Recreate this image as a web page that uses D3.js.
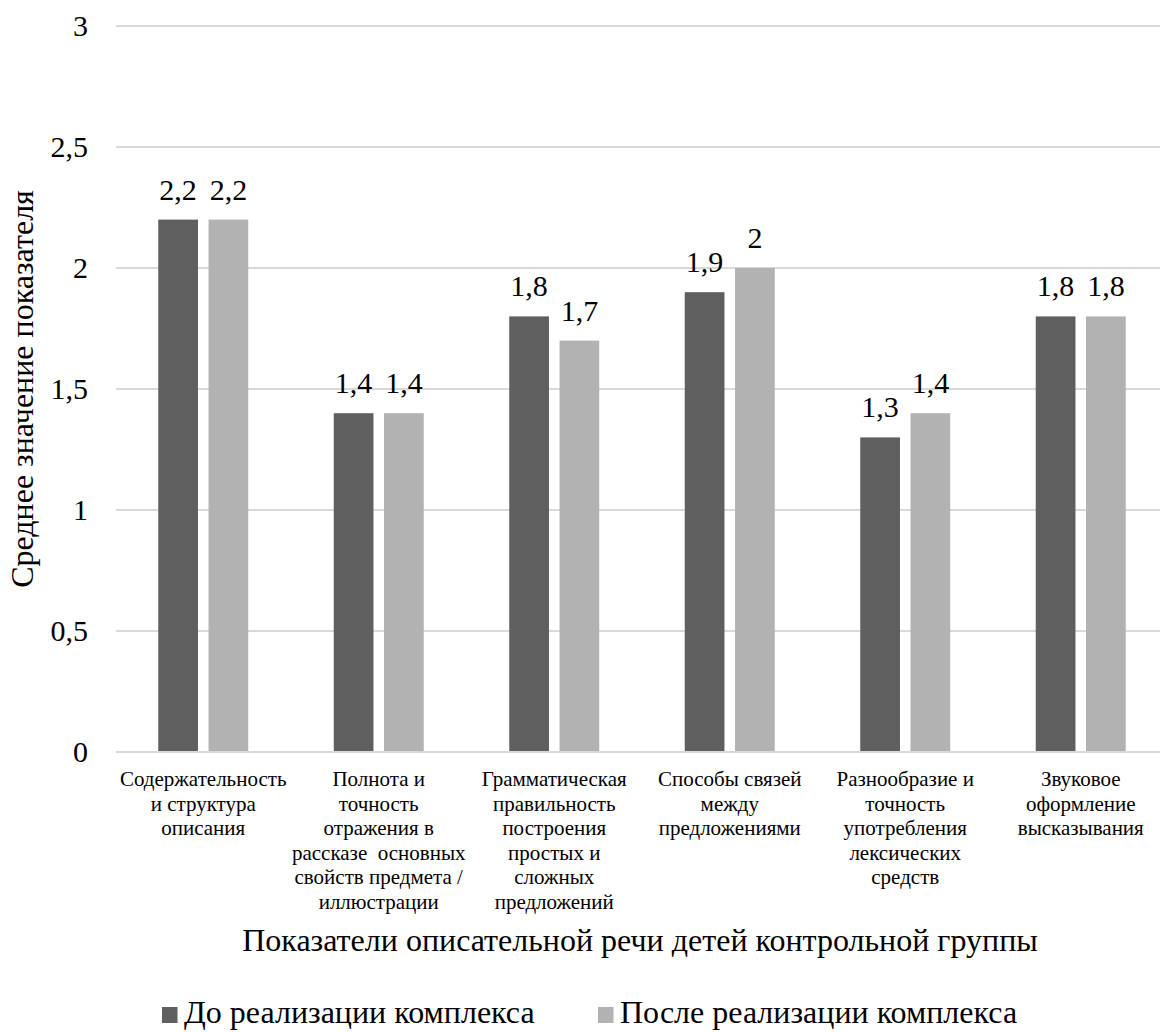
<!DOCTYPE html>
<html><head><meta charset="utf-8">
<script src="https://cdn.jsdelivr.net/npm/d3@7/dist/d3.min.js"></script>
</head><body style="margin:0;background:#fff"><svg id="c" width="1160" height="1032" style="display:block"></svg>
<script>
const categories = [
  "Содержательность\nи структура\nописания",
  "Полнота и\nточность\nотражения в\nрассказе  основных\nсвойств предмета /\nиллюстрации",
  "Грамматическая\nправильность\nпостроения\nпростых и\nсложных\nпредложений",
  "Способы связей\nмежду\nпредложениями",
  "Разнообразие и\nточность\nупотребления\nлексических\nсредств",
  "Звуковое\nоформление\nвысказывания"
];
const seriesNames = ["До реализации комплекса", "После реализации комплекса"];
const before = [2.2, 1.4, 1.8, 1.9, 1.3, 1.8];
const after = [2.2, 1.4, 1.7, 2.0, 1.4, 1.8];
const yTicks = [0, 0.5, 1, 1.5, 2, 2.5, 3];
const colors = ["#5f5f5f", "#b2b2b2"];
const xTitle = "Показатели описательной речи детей контрольной группы";
const yTitle = "Среднее значение показателя";

const svg = d3.select("#c");
const x = d3.scaleBand().domain(d3.range(categories.length)).range([115.5, 1168.5]);
const bw = x.bandwidth();
const x1 = d3.scaleBand().domain([0,1]).range([bw/2 - 45, bw/2 + 45]).paddingInner(0.21);
const y = d3.scaleLinear().domain([0,3]).range([752, 26]);
const fmt = v => String(v).replace(".", ",");
function txt(sel) { sel.style("font-family", '"Liberation Serif", monospace').attr("fill", "#000"); }

svg.append("g").selectAll("line").data(yTicks).join("line")
  .attr("x1", 116).attr("x2", 1160).attr("y1", d => y(d)).attr("y2", d => y(d))
  .attr("stroke", "#d9d9d9").attr("stroke-width", 2);

svg.append("g").selectAll("text").data(yTicks).join("text")
  .call(txt)
  .attr("x", 88).attr("y", d => y(d) + 10).attr("text-anchor", "end")
  .attr("font-size", 30).text(fmt);

const data = [before, after];
data.forEach((vals, s) => {
  const g = svg.append("g");
  g.selectAll("rect").data(vals).join("rect")
    .attr("x", (d,i) => x(i) + x1(s)).attr("width", x1.bandwidth())
    .attr("y", d => y(d)).attr("height", d => y(0) - y(d))
    .attr("fill", colors[s]);
  g.selectAll("text").data(vals).join("text")
    .call(txt)
    .attr("x", (d,i) => x(i) + x1(s) + x1.bandwidth()/2)
    .attr("y", d => y(d) - 20).attr("text-anchor", "middle")
    .attr("font-size", 30).text(fmt);
});

svg.append("line").attr("x1", 116).attr("x2", 1160).attr("y1", y(0)).attr("y2", y(0))
  .attr("stroke", "#d9d9d9").attr("stroke-width", 2);

const cl = svg.append("g");
categories.forEach((c, i) => {
  const cx = x(i) + bw/2;
  const t = cl.append("text").call(txt).attr("text-anchor", "middle").attr("font-size", 21)
    .attr("x", cx).attr("y", 786).style("white-space", "pre");
  c.split("\n").forEach((line, k) => {
    t.append("tspan").attr("x", cx).attr("y", 786 + k*24.5).text(line);
  });
});

svg.append("text").call(txt).attr("x", 640).attr("y", 951).attr("text-anchor", "middle")
  .attr("font-size", 32).text(xTitle);
svg.append("text").call(txt).attr("transform", "translate(33,389) rotate(-90)").attr("text-anchor", "middle")
  .attr("font-size", 32).text(yTitle);

const legX = [162, 598];
seriesNames.forEach((n, s) => {
  svg.append("rect").attr("x", legX[s]).attr("y", 1007).attr("width", 15.5).attr("height", 16).attr("fill", colors[s]);
  svg.append("text").call(txt).attr("x", legX[s] + 22).attr("y", 1023).attr("font-size", 32).text(n);
});
</script></body></html>
